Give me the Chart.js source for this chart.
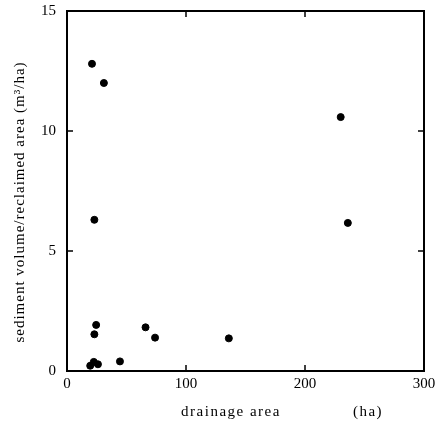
<!DOCTYPE html>
<html lang="en">
<head>
    <meta charset="UTF-8">
    <title>Sediment volume vs drainage area</title>
    <style>
        body {
            margin: 0;
            background: #fff;
        }
        .chart-container {
            width: 440px;
            height: 432px;
        }
    </style>
</head>
<body>
    <div class="chart-container">
        <canvas id="myChart"></canvas>
    </div>

    <script src="https://cdn.jsdelivr.net/npm/chart.js@4.4.0/dist/chart.umd.min.js"></script>
    <script>
        // drainage area (ha)
        const drainageArea = [21, 31, 23, 24.5, 23, 22.5, 19.5, 26, 44.5, 66, 74, 136, 236, 230];
        // sediment volume / reclaimed area (m3/ha)
        const sedimentRatio = [12.8, 12.0, 6.3, 1.92, 1.53, 0.38, 0.22, 0.28, 0.4, 1.82, 1.39, 1.36, 6.17, 10.58];

        const xTicks = [0, 100, 200, 300];
        const yTicks = [0, 5, 10, 15];

        const serif = "'Liberation Serif', 'DejaVu Serif', serif";

        // frame, inward ticks and axis titles
        const framePlugin = {
            id: 'frame',
            afterDraw(chart) {
                const c = chart.ctx;
                const a = chart.chartArea;
                const xs = chart.scales.x;
                const ys = chart.scales.y;
                c.save();
                c.strokeStyle = '#000';
                c.lineWidth = 2;
                c.strokeRect(a.left, a.top, a.right - a.left, a.bottom - a.top);
                c.lineWidth = 1.5;
                c.beginPath();
                xTicks.slice(1, -1).forEach(v => {
                    const px = xs.getPixelForValue(v);
                    c.moveTo(px, a.bottom); c.lineTo(px, a.bottom - 6);
                    c.moveTo(px, a.top); c.lineTo(px, a.top + 6);
                });
                yTicks.slice(1, -1).forEach(v => {
                    const py = ys.getPixelForValue(v);
                    c.moveTo(a.left, py); c.lineTo(a.left + 6, py);
                    c.moveTo(a.right, py); c.lineTo(a.right - 6, py);
                });
                c.stroke();

                c.fillStyle = '#000';
                c.font = '15px ' + serif;
                c.letterSpacing = '1.5px';
                c.textBaseline = 'middle';
                c.textAlign = 'center';
                c.fillText('drainage area', 231, 412);
                c.fillText('(ha)', 368, 412);

                c.letterSpacing = '1px';
                c.translate(20, 202);
                c.rotate(-Math.PI / 2);
                c.fillText('sediment volume/reclaimed area (m\u00B3/ha)', 0, 0);
                c.restore();
            }
        };

        const ctx = document.getElementById('myChart');
        new Chart(ctx, {
            type: 'scatter',
            data: {
                datasets: [{
                    data: drainageArea.map((x, i) => ({ x: x, y: sedimentRatio[i] })),
                    backgroundColor: '#000',
                    borderColor: '#000',
                    pointRadius: 3.5,
                    pointHoverRadius: 3.5
                }]
            },
            options: {
                responsive: true,
                maintainAspectRatio: false,
                animation: false,
                layout: { padding: { top: 11, right: 16, left: 0, bottom: 0 } },
                plugins: {
                    legend: { display: false },
                    tooltip: { enabled: false }
                },
                scales: {
                    x: {
                        type: 'linear',
                        min: 0,
                        max: 300,
                        afterBuildTicks: s => { s.ticks = xTicks.map(v => ({ value: v })); },
                        afterFit: s => { s.height = 61; s.paddingLeft = 0; s.paddingRight = 0; },
                        grid: { display: false, drawTicks: false },
                        border: { display: false },
                        ticks: { color: '#000', padding: 4, font: { family: serif, size: 15 } }
                    },
                    y: {
                        type: 'linear',
                        min: 0,
                        max: 15,
                        afterBuildTicks: s => { s.ticks = yTicks.map(v => ({ value: v })); },
                        afterFit: s => { s.width = 67; s.paddingTop = 0; s.paddingBottom = 0; },
                        grid: { display: false, drawTicks: false },
                        border: { display: false },
                        ticks: { color: '#000', padding: 11, font: { family: serif, size: 15 } }
                    }
                }
            },
            plugins: [framePlugin]
        });
    </script>
</body>
</html>
